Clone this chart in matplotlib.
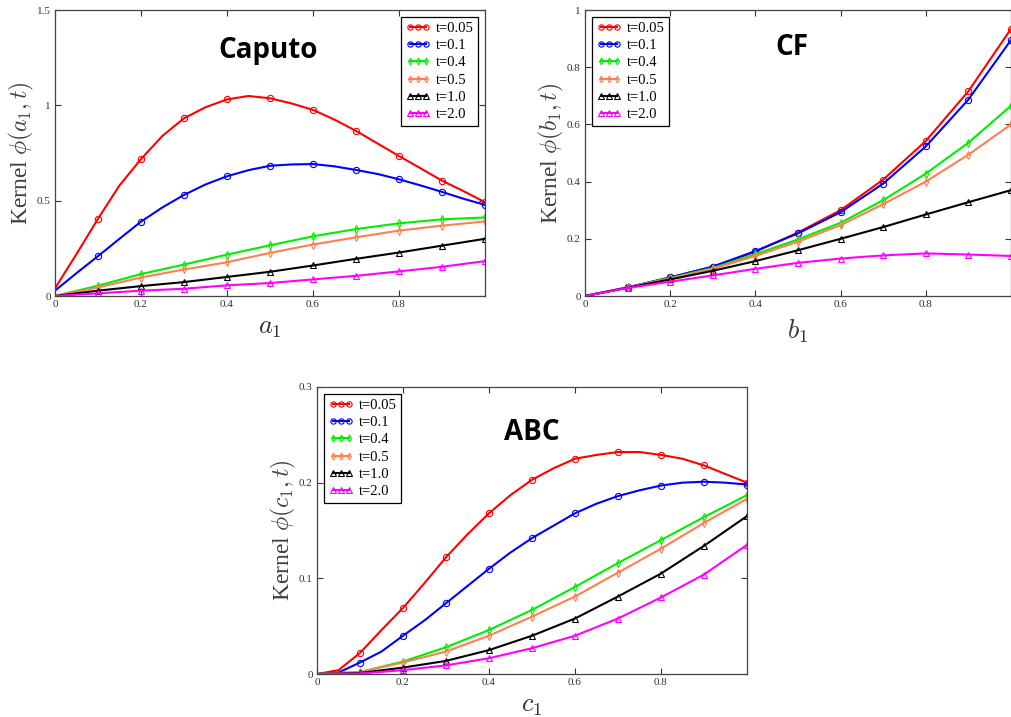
import matplotlib
matplotlib.use("Agg")
import matplotlib.pyplot as plt
from matplotlib.ticker import FormatStrFormatter
import numpy as np

plt.rcParams['mathtext.fontset'] = 'cm'
plt.rcParams['font.family'] = 'Liberation Serif'

labels = ['t=0.05', 't=0.1', 't=0.4', 't=0.5', 't=1.0', 't=2.0']
colors = ['#ff0000', '#0000ff', '#00ee00', '#ff7f50', '#000000', '#ff00ff']
markers = ['o', 'o', 'd', 'd', '^', '^']

x_fine = [0, 0.05, 0.1, 0.15, 0.2, 0.25, 0.3, 0.35, 0.4, 0.45, 0.5,
          0.55, 0.6, 0.65, 0.7, 0.75, 0.8, 0.85, 0.9, 0.95, 1.0]
x_coarse = [0, 0.1, 0.2, 0.3, 0.4, 0.5, 0.6, 0.7, 0.8, 0.9, 1.0]

# Caputo kernel
caputo_005 = [0.04, 0.22, 0.405, 0.58, 0.718, 0.84, 0.932, 0.99, 1.031, 1.049, 1.037,
              1.01, 0.976, 0.925, 0.866, 0.80, 0.734, 0.67, 0.605, 0.55, 0.492]
caputo_01 = [0.028, 0.12, 0.209, 0.30, 0.39, 0.465, 0.53, 0.585, 0.628, 0.66, 0.683,
             0.69, 0.692, 0.68, 0.661, 0.64, 0.612, 0.58, 0.546, 0.51, 0.478]
caputo_04 = [0, 0.054, 0.115, 0.165, 0.217, 0.266, 0.313, 0.351, 0.381, 0.402, 0.412]
caputo_05 = [0, 0.045, 0.097, 0.139, 0.177, 0.226, 0.27, 0.308, 0.343, 0.369, 0.391]
caputo_10 = [0, 0.028, 0.052, 0.073, 0.10, 0.127, 0.16, 0.195, 0.228, 0.264, 0.30]
caputo_20 = [0, 0.014, 0.028, 0.038, 0.056, 0.068, 0.087, 0.106, 0.129, 0.153, 0.183]

# CF kernel
cf_005 = [0, 0.03, 0.065, 0.102, 0.155, 0.222, 0.30, 0.407, 0.542, 0.716, 0.934]
cf_01 = [0, 0.03, 0.065, 0.103, 0.157, 0.219, 0.293, 0.393, 0.523, 0.687, 0.895]
cf_04 = [0, 0.03, 0.063, 0.098, 0.146, 0.198, 0.256, 0.335, 0.428, 0.536, 0.665]
cf_05 = [0, 0.03, 0.061, 0.095, 0.14, 0.19, 0.248, 0.321, 0.40, 0.494, 0.60]
cf_10 = [0, 0.029, 0.058, 0.088, 0.122, 0.16, 0.20, 0.241, 0.285, 0.328, 0.37]
cf_20 = [0, 0.028, 0.05, 0.072, 0.095, 0.116, 0.131, 0.142, 0.149, 0.145, 0.14]

# ABC kernel
abc_005 = [0, 0.004, 0.022, 0.046, 0.069, 0.095, 0.122, 0.146, 0.168, 0.187, 0.203,
           0.215, 0.225, 0.229, 0.232, 0.232, 0.229, 0.225, 0.218, 0.209, 0.2]
abc_01 = [0, 0.0015, 0.012, 0.0235, 0.04, 0.056, 0.074, 0.092, 0.11, 0.127, 0.142,
          0.155, 0.168, 0.178, 0.186, 0.192, 0.197, 0.2, 0.201, 0.2, 0.198]
abc_04 = [0, 0.002, 0.013, 0.028, 0.046, 0.067, 0.091, 0.116, 0.14, 0.164, 0.187]
abc_05 = [0, 0.002, 0.012, 0.0235, 0.04, 0.06, 0.081, 0.106, 0.131, 0.158, 0.183]
abc_10 = [0, 0.001, 0.0067, 0.0137, 0.025, 0.04, 0.058, 0.081, 0.105, 0.134, 0.165]
abc_20 = [0, 0.0005, 0.004, 0.009, 0.0165, 0.027, 0.04, 0.058, 0.08, 0.104, 0.135]

W, H = 1012, 717
fig = plt.figure(figsize=(W / 100, H / 100), dpi=100)


def px_axes(l, t, r, b):
    return fig.add_axes([l / W, 1 - b / H, (r - l) / W, (b - t) / H])


def draw(ax, series, ymax, yticks, xlab, ylab, title, tpos, legloc):
    for (xs, ys), lab, c, m in zip(series, labels, colors, markers):
        me = (2, 2) if len(xs) > 11 else (1, 1)
        ms = 4.5 if m == 'o' else (4 if m == 'd' else 4.5)
        ax.plot(xs, ys, color=c, lw=1.5, marker=m, ms=ms, mfc='none',
                mec=c, mew=0.8, markevery=me, label=lab)
    ax.set_xlim(0, 1)
    ax.set_ylim(0, ymax)
    ax.set_xticks([0, 0.2, 0.4, 0.6, 0.8])
    ax.set_yticks(yticks)
    ax.xaxis.set_major_formatter(FormatStrFormatter('%g'))
    ax.yaxis.set_major_formatter(FormatStrFormatter('%g'))
    ax.tick_params(direction='in', top=True, right=True, length=4,
                   labelsize=8, colors='#333333', pad=3)
    for s in ax.spines.values():
        s.set_color('#444444')
        s.set_linewidth(0.9)
    ax.set_xlabel(xlab, fontsize=19, color='#333333', labelpad=6)
    ax.set_ylabel(ylab, fontsize=17, color='#404040', labelpad=1)
    ax.text(tpos[0], tpos[1], title, transform=ax.transAxes, ha='center',
            va='center', fontsize=20, fontweight='bold', family='Open Sans')
    leg = ax.legend(loc=legloc, numpoints=3, fontsize=10.5, handlelength=1.7,
                    handletextpad=0.35, labelspacing=0.28, borderpad=0.3,
                    borderaxespad=0.5, fancybox=False, framealpha=1,
                    edgecolor='black', markerscale=0.85)
    leg.get_frame().set_linewidth(0.9)


ax1 = px_axes(55, 10, 485, 296)
draw(ax1, [(x_fine, caputo_005), (x_fine, caputo_01), (x_coarse, caputo_04),
           (x_coarse, caputo_05), (x_coarse, caputo_10), (x_coarse, caputo_20)],
     1.5, [0, 0.5, 1, 1.5], r'$a_1$', r'Kernel $\phi(a_1,t)$', 'Caputo',
     (0.495, 0.86), 'upper right')

ax2 = px_axes(585, 10, 1011, 296)
draw(ax2, [(x_coarse, cf_005), (x_coarse, cf_01), (x_coarse, cf_04),
           (x_coarse, cf_05), (x_coarse, cf_10), (x_coarse, cf_20)],
     1.0, [0, 0.2, 0.4, 0.6, 0.8, 1], r'$b_1$', r'Kernel $\phi(b_1,t)$', 'CF',
     (0.485, 0.87), 'upper left')

ax3 = px_axes(317, 387, 747, 674)
draw(ax3, [(x_fine, abc_005), (x_fine, abc_01), (x_coarse, abc_04),
           (x_coarse, abc_05), (x_coarse, abc_10), (x_coarse, abc_20)],
     0.3, [0, 0.1, 0.2, 0.3], r'$c_1$', r'Kernel $\phi(c_1,t)$', 'ABC',
     (0.5, 0.84), 'upper left')

fig.savefig('out.png', dpi=100)
